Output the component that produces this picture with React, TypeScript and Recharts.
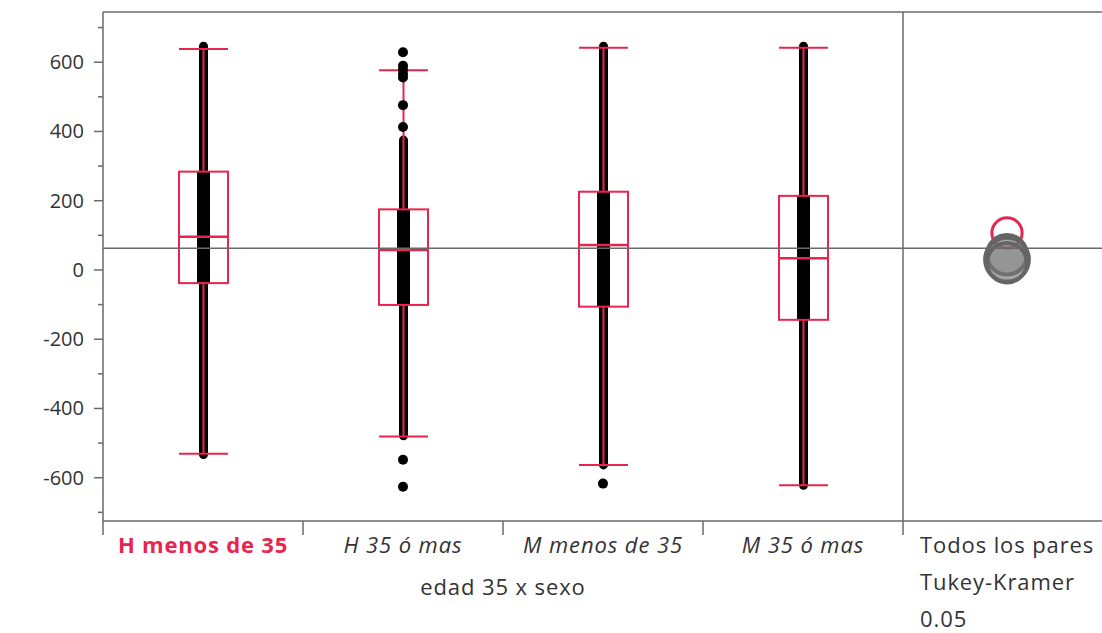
import React from 'react';
import { ComposedChart, Bar, Scatter, XAxis, YAxis, ReferenceLine } from 'recharts';

// Groups on the horizontal axis
const groups = ['H menos de 35', 'H 35 ó mas', 'M menos de 35', 'M 35 ó mas'];
const comparisonLabel = 'Todos los pares';
const comparisonLines = ['Todos los pares', 'Tukey-Kramer', '0.05'];
const axisTitle = 'edad 35 x sexo';

// Quantile box per group
const q1Values = [-38, -101, -106, -144];
const medianValues = [96, 58, 72, 34];
const q3Values = [284, 175, 226, 214];
const whiskerLow = [-531, -481, -563, -622];
const whiskerHigh = [638, 577, 642, 642];

// Extent of the dense run of observations per group
const pointsLow = [-533, -479, -563, -622];
const pointsHigh = [646, 375, 646, 646];

// Separate observations outside the dense runs
const outlierGroups = [
  'H 35 ó mas', 'H 35 ó mas', 'H 35 ó mas', 'H 35 ó mas', 'H 35 ó mas',
  'H 35 ó mas', 'H 35 ó mas', 'H 35 ó mas', 'H 35 ó mas', 'M menos de 35',
];
const outlierValues = [629, 590, 578, 566, 556, 476, 413, -548, -626, -617];

// Overall mean and comparison circles (centre, radius in data units)
const grandMean = 63;
const circleCenters = [107, 44, 30, 21];
const circleRadii = [48, 63, 69, 63];

// Value axis
const yDomain: [number, number] = [-725, 745];
const yTicksMajor = [-600, -400, -200, 0, 200, 400, 600];
const yTicksMinor = [-700, -500, -300, -100, 100, 300, 500, 700];

const PLOT_TOP = 12;
const FONT = '"Open Sans", "Noto Sans", sans-serif';
const RED = '#e8254e';
const AXIS = '#6a6a6a';
const TEXT = '#333333';
const LABEL_SIZE = 22;
const LABEL_SPACING = 0.9;

const rows: any[] = [
  ...groups.map((g, i) => ({
    group: g,
    kind: 'group',
    q1: q1Values[i],
    median: medianValues[i],
    q3: q3Values[i],
    wLo: whiskerLow[i],
    wHi: whiskerHigh[i],
    pLo: pointsLow[i],
    pHi: pointsHigh[i],
    span: [Math.min(pointsLow[i], whiskerLow[i]), Math.max(pointsHigh[i], whiskerHigh[i])],
  })),
  {
    group: comparisonLabel,
    kind: 'panel',
    span: null,
    circles: circleCenters.map((c, i) => [c - circleRadii[i], c + circleRadii[i]]),
  },
];

const outliers = outlierValues.map((v, i) => ({ group: outlierGroups[i], value: v }));

function BoxPlotShape(props: any) {
  const { x, y, width, height, payload } = props;
  if (!payload || payload.kind !== 'group' || !isFinite(y) || !isFinite(height) || height <= 0) {
    return <g />;
  }
  const [lo, hi] = payload.span;
  const toPx = (v: number) => y + ((hi - v) / (hi - lo)) * height;
  const cx = x + width / 2;
  const half = width / 2;
  const colW = 9;
  const denseW = 13;
  const pTop = toPx(payload.pHi);
  const pBot = toPx(payload.pLo);
  const boxTop = toPx(payload.q3);
  const boxBot = toPx(payload.q1);
  const med = toPx(payload.median);
  const wTop = toPx(payload.wHi);
  const wBot = toPx(payload.wLo);
  return (
    <g>
      <rect x={cx - colW / 2} y={pTop - colW / 2} width={colW} height={pBot - pTop + colW} rx={colW / 2} fill="#000" />
      <rect x={cx - denseW / 2} y={boxTop} width={denseW} height={boxBot - boxTop} fill="#000" />
      <line x1={cx} x2={cx} y1={wTop} y2={boxTop} stroke={RED} strokeWidth={2} />
      <line x1={cx} x2={cx} y1={boxBot} y2={wBot} stroke={RED} strokeWidth={2} />
      <line x1={cx - half} x2={cx + half} y1={wTop} y2={wTop} stroke={RED} strokeWidth={2} />
      <line x1={cx - half} x2={cx + half} y1={wBot} y2={wBot} stroke={RED} strokeWidth={2} />
      <rect x={cx - half} y={boxTop} width={width} height={boxBot - boxTop} fill="none" stroke={RED} strokeWidth={2} />
      <line x1={cx - half} x2={cx + half} y1={med} y2={med} stroke={RED} strokeWidth={2.5} />
    </g>
  );
}

const makeCircleShape = (i: number) => (props: any) => {
  const { x, y, width, height, payload } = props;
  if (!payload || payload.kind !== 'panel' || !isFinite(y) || !isFinite(height) || height <= 0) {
    return <g />;
  }
  const cx = x + width / 2 + 4;
  const cy = y + height / 2;
  const r = height / 2;
  if (i === 0) {
    return <circle cx={cx} cy={cy} r={r - 1.5} fill="none" stroke={RED} strokeWidth={3} />;
  }
  return (
    <circle cx={cx} cy={cy} r={r - 2} fill="#777777" fillOpacity={0.4} stroke="#656565" strokeWidth={4} />
  );
};

function ValueTick(props: any) {
  const { x, y, payload } = props;
  const major = payload.value % 200 === 0;
  return (
    <g>
      <line x1={x - (major ? 9 : 5)} x2={x} y1={y} y2={y} stroke={AXIS} strokeWidth={1.5} />
      {major && (
        <text x={x - 19} y={y} dy={7} textAnchor="end" fontSize={20} fontFamily={FONT} fill={TEXT}>
          {payload.value}
        </text>
      )}
    </g>
  );
}

function CategoryTick(props: any) {
  const { x, y, payload, index } = props;
  const half = typeof payload.offset === 'number' && payload.offset > 0 ? payload.offset : 100;
  const left = x - half;
  const idx = typeof index === 'number' ? index : groups.indexOf(payload.value);
  const tickLine = <line x1={left} x2={left} y1={y} y2={y + 14} stroke={AXIS} strokeWidth={1.5} />;
  if (payload.value === comparisonLabel) {
    return (
      <g>
        <line x1={left} x2={left} y1={PLOT_TOP} y2={y + 14} stroke={AXIS} strokeWidth={1.5} />
        {comparisonLines.map((t, k) => (
          <text
            key={k}
            x={left + 17}
            y={y + 32 + k * 37}
            fontSize={LABEL_SIZE}
            letterSpacing={LABEL_SPACING}
            fontFamily={FONT}
            fill={TEXT}
          >
            {t}
          </text>
        ))}
      </g>
    );
  }
  const first = idx === 0;
  return (
    <g>
      {tickLine}
      <text
        x={x}
        y={y + 32}
        textAnchor="middle"
        fontSize={LABEL_SIZE}
        letterSpacing={first ? 0.8 : LABEL_SPACING}
        fontFamily={FONT}
        fontWeight={first ? 700 : 400}
        fontStyle={first ? 'normal' : 'italic'}
        fill={first ? RED : TEXT}
      >
        {payload.value}
      </text>
      {idx === 2 && (
        <text
          x={left}
          y={y + 74}
          textAnchor="middle"
          fontSize={LABEL_SIZE}
          letterSpacing={LABEL_SPACING}
          fontFamily={FONT}
          fill={TEXT}
        >
          {axisTitle}
        </text>
      )}
    </g>
  );
}

export default function App() {
  const yTicks = [...yTicksMinor, ...yTicksMajor].sort((a, b) => a - b);
  return (
    <div style={{ position: 'fixed', left: 0, top: 0, width: 1102, height: 633, overflow: 'hidden', background: '#fff' }}>
      <ComposedChart width={1104} height={633} data={rows} margin={{ top: PLOT_TOP, right: 1, bottom: 0, left: 0 }}>
        <XAxis
          xAxisId="main"
          dataKey="group"
          type="category"
          allowDuplicatedCategory={false}
          height={112}
          interval={0}
          tickLine={false}
          tickSize={0}
          tickMargin={0}
          axisLine={{ stroke: AXIS, strokeWidth: 1.5 }}
          tick={<CategoryTick />}
        />
        {circleCenters.map((_, i) => (
          <XAxis
            key={'ax' + i}
            xAxisId={'c' + i}
            dataKey="group"
            type="category"
            allowDuplicatedCategory={false}
            height={0}
            hide
          />
        ))}
        <YAxis
          type="number"
          domain={yDomain}
          allowDataOverflow
          ticks={yTicks}
          interval={0}
          width={103}
          tickLine={false}
          tickSize={0}
          tickMargin={0}
          axisLine={{ stroke: AXIS, strokeWidth: 1.5 }}
          tick={<ValueTick />}
        />
        <ReferenceLine xAxisId="main" y={yDomain[1]} stroke={AXIS} strokeWidth={1.5} />
        <Bar xAxisId="main" dataKey="span" barSize={49} shape={<BoxPlotShape />} isAnimationActive={false} />
        <Scatter
          xAxisId="main"
          data={outliers}
          dataKey="value"
          isAnimationActive={false}
          shape={(p: any) => <circle cx={p.cx} cy={p.cy} r={5} fill="#000" />}
        />
        {circleCenters.map((_, i) => (
          <Bar
            key={'circle' + i}
            xAxisId={'c' + i}
            dataKey={(d: any) => (d.circles ? d.circles[i] : null)}
            barSize={40}
            shape={makeCircleShape(i)}
            isAnimationActive={false}
          />
        ))}
        <ReferenceLine xAxisId="main" y={grandMean} stroke={AXIS} strokeWidth={1.5} />
      </ComposedChart>
    </div>
  );
}
